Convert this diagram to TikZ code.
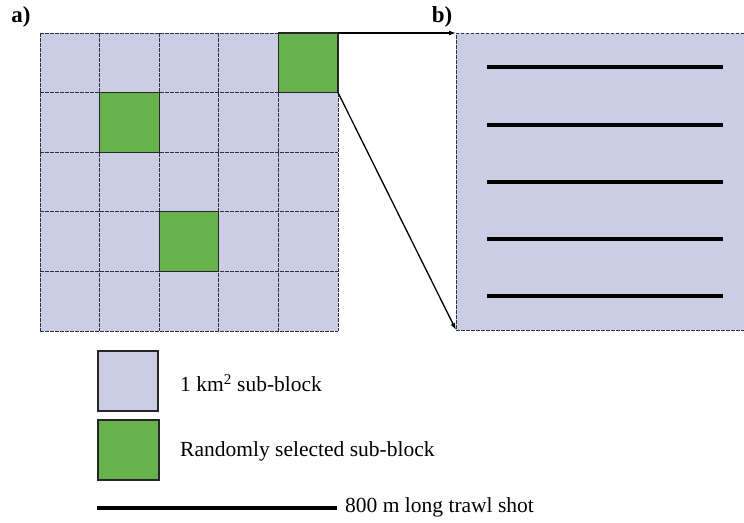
\documentclass[tikz,border=0pt]{standalone}
\usepackage{fontspec}
\setmainfont{Liberation Serif}
\usetikzlibrary{arrows.meta}
\definecolor{blockfill}{RGB}{202,205,228}
\definecolor{pickfill}{RGB}{104,178,78}
\definecolor{gridline}{RGB}{50,50,62}
\tikzset{
  cell/.style={fill=blockfill, minimum size=59.6pt, inner sep=0pt, outer sep=0pt},
  gridrule/.style={draw=gridline, dash pattern=on 3.5pt off 1.5pt, line width=1pt},
  pick/.style={draw=black!85, solid, line width=1.3pt, fill=pickfill,
    minimum size=59.6pt, inner sep=0pt, outer sep=0pt},
  shot/.style={line width=4.2pt, black},
  link/.style={-{Latex[length=7pt,width=5pt]}, line width=1.3pt},
  lbl/.style={font=\fontsize{21.5}{23}\selectfont, anchor=west, inner sep=0pt},
  panel/.style={font=\fontsize{23}{24}\selectfont\bfseries, inner sep=0pt},
  keybox/.style={draw=black!85, line width=1.5pt, minimum height=60pt,
    inner sep=0pt, anchor=north west}
}
\begin{document}
\begin{tikzpicture}[x=1pt,y=-1pt]
\useasboundingbox (0,0) rectangle (744,522);
% panel a: 5 x 5 grid of sub-blocks
\foreach \i in {0,...,4}{
  \foreach \j in {0,...,4}{
    \node[cell] (c\i\j) at ({40+29.8+59.6*\i},{33+29.8+59.6*\j}) {};
  }
}
\foreach \k in {0,...,5}{
  \draw[gridrule] ({40+59.6*\k},33) -- ({40+59.6*\k},331);
  \draw[gridrule] (40,{33+59.6*\k}) -- (338,{33+59.6*\k});
}
% randomly selected sub-blocks
\node[pick] (g1) at (c40) {};
\node[pick] (g2) at (c11) {};
\node[pick] (g3) at (c23) {};
\node[panel] (la) at (21,17) {a)};
% panel b: enlarged sub-block
\fill[blockfill] (456,33) rectangle (744,330);
\coordinate (btl) at (456,33);
\coordinate (bbl) at (456,330);
\draw[gridrule] (744,33) -- (btl) -- (bbl) -- (744,330);
\node[panel] (lb) at (442,17) {b)};
\foreach \k/\y in {1/67,2/125,3/182,4/239,5/296}{
  \coordinate (s\k a) at (487,\y);
  \coordinate (s\k b) at (723,\y);
  \draw[shot] (s\k a) -- (s\k b);
}
% zoom connectors
\draw[link] (g1.north east) -- (btl);
\draw[link] (g1.south east) -- (bbl);
% legend
\node[keybox, fill=blockfill, minimum width=60pt] (k1) at (97,350) {};
\node[lbl] (t1) at (180,383) {1 km\textsuperscript{2} sub-block};
\node[keybox, fill=pickfill, minimum width=61pt] (k2) at (97,419) {};
\node[lbl] (t2) at (180,451) {Randomly selected sub-block};
\coordinate (k3a) at (97,508);
\coordinate (k3b) at (337,508);
\draw[shot] (k3a) -- (k3b);
\node[lbl] (t3) at (345,507) {800 m long trawl shot};
\end{tikzpicture}
\end{document}
